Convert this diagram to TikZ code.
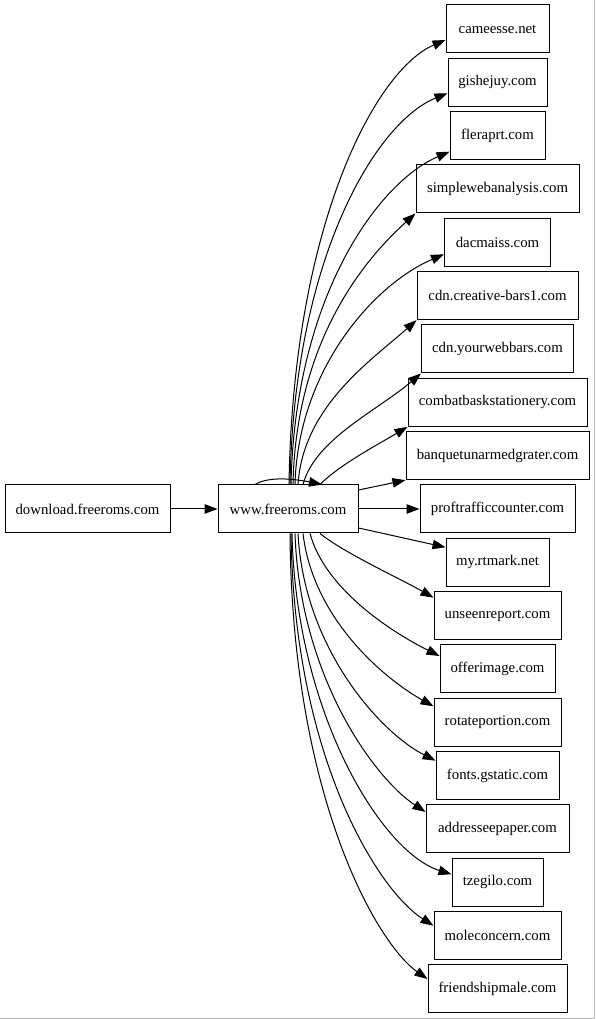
\documentclass[tikz,border=0pt]{standalone}
\usepackage{fontspec}
\setmainfont{Liberation Serif}
\usetikzlibrary{arrows.meta}
\begin{document}
\begin{tikzpicture}[x=1pt,y=1pt,
  box/.style={draw, line width=1pt, minimum height=48pt, inner sep=0pt,
    font=\fontsize{14.8}{17}\selectfont},
  edge/.style={line width=1pt, -{Triangle[length=13pt,width=9.5pt]}}]
\useasboundingbox (0,0) rectangle (595,1019);
\draw[gray!55, line width=1pt] (594.5,1019) -- (594.5,0.5) -- (0,0.5);
% left nodes
\node[box, minimum width=165pt] (dl) at (87.5,510) {download.freeroms.com};
\node[box, minimum width=140pt] (www) at (288,510) {www.freeroms.com};
% right column
\node[box, minimum width=103pt] (n1) at (497.5,990.0) {cameesse.net};
\node[box, minimum width=99pt]  (n2) at (497.5,936.7) {gishejuy.com};
\node[box, minimum width=95pt]  (n3) at (497.5,883.3) {fleraprt.com};
\node[box, minimum width=163pt] (n4) at (497.5,830.0) {simplewebanalysis.com};
\node[box, minimum width=106pt] (n5) at (497.5,776.7) {dacmaiss.com};
\node[box, minimum width=161pt] (n6) at (497.5,723.3) {cdn.creative-bars1.com};
\node[box, minimum width=152pt] (n7) at (497.5,670.0) {cdn.yourwebbars.com};
\node[box, minimum width=179pt] (n8) at (497.5,616.7) {combatbaskstationery.com};
\node[box, minimum width=183pt] (n9) at (497.5,563.3) {banquetunarmedgrater.com};
\node[box, minimum width=155pt] (n10) at (497.5,510.0) {proftrafficcounter.com};
\node[box, minimum width=103pt] (n11) at (497.5,456.7) {my.rtmark.net};
\node[box, minimum width=127pt] (n12) at (497.5,403.3) {unseenreport.com};
\node[box, minimum width=115pt] (n13) at (497.5,350.0) {offerimage.com};
\node[box, minimum width=127pt] (n14) at (497.5,296.7) {rotateportion.com};
\node[box, minimum width=123pt] (n15) at (497.5,243.3) {fonts.gstatic.com};
\node[box, minimum width=143pt] (n16) at (497.5,190.0) {addresseepaper.com};
\node[box, minimum width=91pt]  (n17) at (497.5,136.7) {tzegilo.com};
\node[box, minimum width=127pt] (n18) at (497.5,83.3) {moleconcern.com};
\node[box, minimum width=139pt] (n19) at (497.5,30.0) {friendshipmale.com};
% edges
\draw[edge] (dl) -- (www);
\draw[edge] ([xshift=-33pt]www.north) .. controls +(15,9) and +(-25,5) .. ([xshift=34pt]www.north);
% upper
\draw[edge] ([xshift=1pt]www.north) .. controls +(4,260) and +(-70,-30) .. ([yshift=-11pt]n1.west);
\draw[edge] ([xshift=2pt]www.north) .. controls +(4,230) and +(-70,-28) .. ([yshift=-11pt]n2.west);
\draw[edge] ([xshift=3pt]www.north) .. controls +(4,190) and +(-70,-30) .. ([yshift=-16pt]n3.west);
\draw[edge] ([xshift=5pt]www.north) .. controls +(3,145) and +(-50,-45) .. (n4.south west);
\draw[edge] ([xshift=7pt]www.north) .. controls +(3,115) and +(-70,-30) .. ([yshift=-12pt]n5.west);
\draw[edge] ([xshift=10pt]www.north) .. controls +(5,78) and +(-45,-40) .. (n6.south west);
\draw[edge] ([xshift=15pt]www.north) .. controls +(12,45) and +(-45,-38) .. (n7.south west);
\draw[edge] ([xshift=32pt]www.north) .. controls +(20,20) and +(-30,-18) .. (n8.south west);
\draw[edge] ([yshift=19pt]www.east) -- (n9.south west);
\draw[edge] (www) -- (n10);
% lower
\draw[edge] ([yshift=-19pt]www.east) -- ([yshift=15pt]n11.west);
\draw[edge] ([xshift=32pt]www.south) .. controls +(25,-20) and +(-35,20) .. ([yshift=18pt]n12.west);
\draw[edge] ([xshift=22pt]www.south) .. controls +(15,-55) and +(-50,25) .. ([yshift=13pt]n13.west);
\draw[edge] ([xshift=15pt]www.south) .. controls +(10,-85) and +(-50,28) .. ([yshift=16pt]n14.west);
\draw[edge] ([xshift=10pt]www.south) .. controls +(6,-115) and +(-55,28) .. ([yshift=15pt]n15.west);
\draw[edge] ([xshift=7pt]www.south) .. controls +(5,-145) and +(-50,33) .. ([yshift=17pt]n16.west);
\draw[edge] ([xshift=4pt]www.south) .. controls +(4,-180) and +(-70,22) .. ([yshift=8pt]n17.west);
\draw[edge] ([xshift=3pt]www.south) .. controls +(3,-225) and +(-55,35) .. ([yshift=10pt]n18.west);
\draw[edge] ([xshift=2pt]www.south) .. controls +(2,-265) and +(-50,35) .. ([yshift=10pt]n19.west);
\end{tikzpicture}
\end{document}
